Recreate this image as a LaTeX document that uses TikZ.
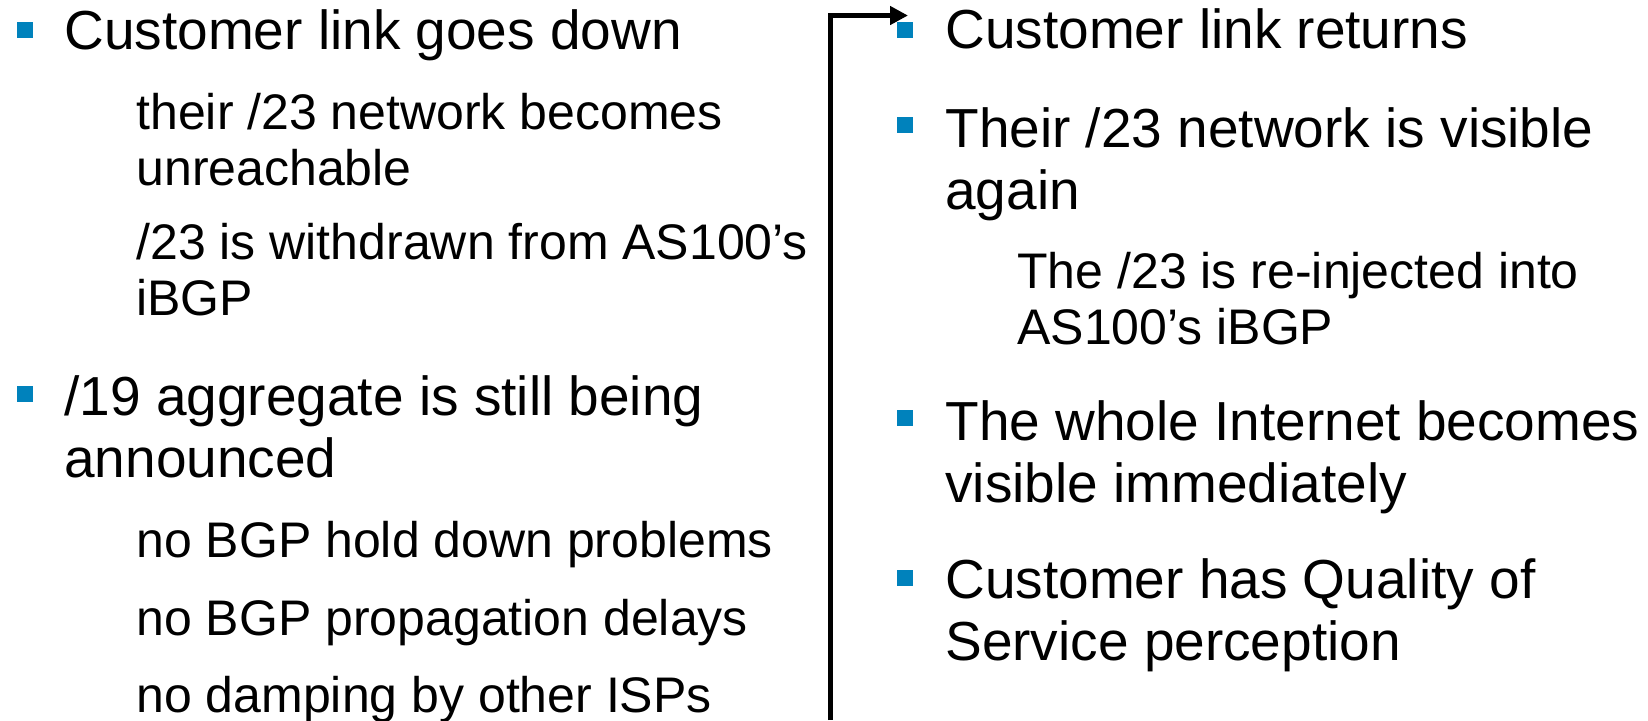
\documentclass[tikz,border=0pt]{standalone}
\usepackage{fontspec}
\setmainfont{Liberation Sans}
\usepackage{tikz}
\usepackage{xcolor}
\usetikzlibrary{arrows.meta, positioning}
\definecolor{bulletblue}{RGB}{0,130,188}

\begin{document}
\begin{tikzpicture}[x=0.5pt, y=-0.5pt,
  sqbullet/.style={fill=bulletblue, minimum size=8pt, inner sep=0pt},
  maintext/.style={anchor=base west, inner sep=0pt, align=left, font=\fontsize{27.5}{31}\selectfont},
  subtext/.style={anchor=base west, inner sep=0pt, align=left, font=\fontsize{25}{28}\selectfont}]
\useasboundingbox (0,0) rectangle (1648,720);

% bullet squares
\foreach \bx/\by/\bn in {25/30/bA, 25/394/bB, 905/30/bC, 905/125/bD, 905/418/bE, 905/578/bF} {
  \node[sqbullet] (\bn) at (\bx,\by) {};
}

% link down column (multi-line nodes sit on their last baseline)
\node[maintext] (down) at (64,49) {Customer link goes down};
\node[subtext] (unreach) at (136,185) {their /23 network becomes\\unreachable};
\node[subtext] (withdrawn) at (136,315) {/23 is withdrawn from AS100’s\\iBGP};
\node[maintext] (aggr) at (64,477) {/19 aggregate is still being\\announced};
\node[subtext] (holddown) at (136,557) {no BGP hold down problems};
\node[subtext] (propag) at (136,635) {no BGP propagation delays};
\node[subtext] (damping) at (136,712) {no damping by other ISPs};

% link returns column
\node[maintext] (returns) at (945,48) {Customer link returns};
\node[maintext] (visible) at (945,209) {Their /23 network is visible\\again};
\node[subtext] (reinject) at (1017,344) {The /23 is re-injected into\\AS100’s iBGP};
\node[maintext] (internet) at (945,502) {The whole Internet becomes\\visible immediately};
\node[maintext] (quality) at (945,660) {Customer has Quality of\\Service perception};

% time arrow
\coordinate (tstart) at (830,720);
\coordinate (ttip) at (908,15.5);
\draw[line width=2.5pt, -{Triangle[length=9pt, width=9pt]}] (tstart) |- (ttip);
\end{tikzpicture}
\end{document}
